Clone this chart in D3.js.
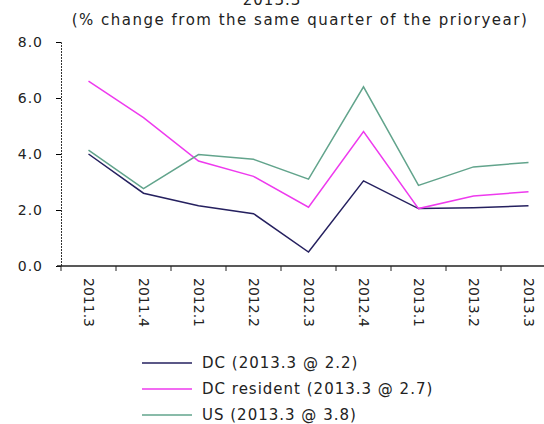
<!DOCTYPE html>
<html lang="en">
  <head>
    <meta charset="utf-8">
    <title>DC and US growth</title>
    <script src="https://d3js.org/d3.v7.min.js"></script>
    <style>
      body { margin: 0; background: #fff; }
      svg { display: block; }
      text { font-family: "DejaVu Sans", sans-serif; fill: #222; }
    </style>
  </head>
  <body>
    <div id="main"></div>
    <script>
      var quarters = ["2011.3", "2011.4", "2012.1", "2012.2", "2012.3", "2012.4", "2013.1", "2013.2", "2013.3"];
      var dcValues = [4.0, 2.6, 2.15, 1.87, 0.5, 3.04, 2.05, 2.08, 2.15];
      var dcResidentValues = [6.6, 5.3, 3.75, 3.2, 2.1, 4.8, 2.05, 2.5, 2.65];
      var usValues = [4.14, 2.76, 3.98, 3.81, 3.1, 6.4, 2.88, 3.54, 3.7];
      var yTicks = [0, 2, 4, 6, 8];
      var seriesNames = ["DC (2013.3 @ 2.2)", "DC resident (2013.3 @ 2.7)", "US (2013.3 @ 3.8)"];
      var seriesColors = ["#25205f", "#ee3aee", "#62a48c"];

      var series = [dcValues, dcResidentValues, usValues].map(function(vals, i) {
        return { name: seriesNames[i], color: seriesColors[i], values: vals };
      });

      var svg = d3.select("#main").append("svg")
        .attr("width", 544)
        .attr("height", 424);

      // title, first line is cut off at the top edge like the original
      svg.append("text").attr("x", 272).attr("y", 5).attr("text-anchor", "middle")
        .style("font-size", "15px").style("letter-spacing", "1px").text("2013.3");
      svg.append("text").attr("x", 300).attr("y", 25).attr("text-anchor", "middle")
        .style("font-size", "15px").style("letter-spacing", "1.5px")
        .text("(% change from the same  quarter of the prioryear)");

      var x = d3.scaleBand().domain(quarters).range([61, 556]);
      var y = d3.scaleLinear().domain([0, 8]).range([266, 42]);

      // y axis (dotted line)
      var yAxis = svg.append("g").attr("transform", "translate(61,0)")
        .call(d3.axisLeft(y).tickValues(yTicks).tickFormat(d3.format(".1f")).tickSizeOuter(0).tickSize(5));
      yAxis.select(".domain").attr("stroke", "#333").attr("stroke-dasharray", "2,1");
      yAxis.selectAll("text").style("font-size", "14px").style("letter-spacing", "1px")
        .attr("x", -18).attr("dy", "0.35em");

      // x axis with ticks between categories
      var xAxis = svg.append("g").attr("transform", "translate(0,266)");
      xAxis.append("line").attr("x1", 57).attr("x2", 556).attr("stroke", "#222").attr("stroke-width", 1.3);
      xAxis.selectAll(".tk").data(quarters).enter().append("line")
        .attr("x1", function(d) { return x(d); }).attr("x2", function(d) { return x(d); })
        .attr("y1", 0).attr("y2", 5).attr("stroke", "#222");
      xAxis.selectAll(".lbl").data(quarters).enter().append("text")
        .attr("transform", function(d) { return "translate(" + (x(d) + x.bandwidth() / 2 - 5) + ",12) rotate(90)"; })
        .style("font-size", "14px")
        .text(function(d) { return d; });

      var line = d3.line()
        .x(function(d, i) { return x(quarters[i]) + x.bandwidth() / 2; })
        .y(function(d) { return y(d); });

      svg.selectAll(".series").data(series).enter().append("path")
        .attr("fill", "none")
        .attr("stroke", function(d) { return d.color; })
        .attr("stroke-width", 1.5)
        .attr("d", function(d) { return line(d.values); });

      // legend
      var legend = svg.selectAll(".legend").data(series).enter().append("g")
        .attr("transform", function(d, i) { return "translate(142," + (363 + i * 26) + ")"; });
      legend.append("line").attr("x1", 0).attr("x2", 50)
        .attr("stroke", function(d) { return d.color; }).attr("stroke-width", 1.5);
      legend.append("text").attr("x", 60).attr("dy", "0.35em")
        .style("font-size", "15px").style("letter-spacing", "1px")
        .text(function(d) { return d.name; });
    </script>
  </body>
</html>
